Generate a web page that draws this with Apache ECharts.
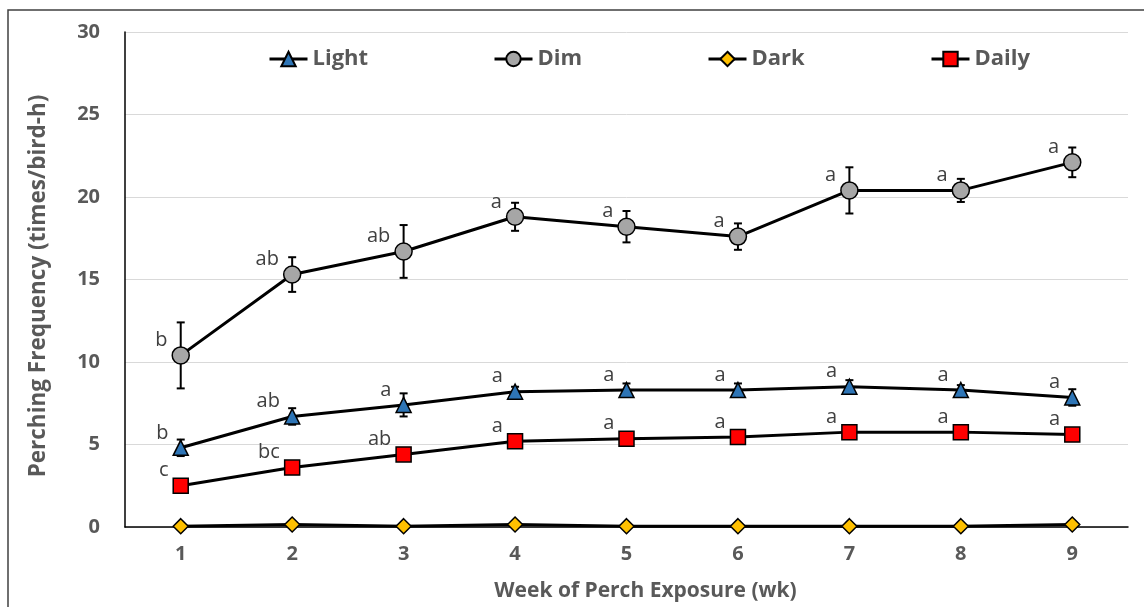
<!DOCTYPE html>
<html>
<head>
<meta charset="utf-8">
<script src="https://cdn.jsdelivr.net/npm/echarts@6/dist/echarts.min.js"></script>
<style>
html,body{margin:0;padding:0;background:#fff;}
#chart{width:1144px;height:607px;}
</style>
</head>
<body>
<div id="chart"></div>
<script>
const weeks = ['1','2','3','4','5','6','7','8','9'];
const yTicks = [0,5,10,15,20,25,30];

const light   = [4.8, 6.7, 7.4, 8.2, 8.3, 8.3, 8.5, 8.3, 7.85];
const lightSE = [0.5, 0.5, 0.7, 0.3, 0.4, 0.4, 0.4, 0.3, 0.5];
const dim     = [10.4, 15.3, 16.7, 18.8, 18.2, 17.6, 20.4, 20.4, 22.1];
const dimSE   = [2.0, 1.05, 1.6, 0.85, 0.95, 0.8, 1.4, 0.7, 0.9];
const dark    = [0.05, 0.15, 0.05, 0.15, 0.05, 0.05, 0.05, 0.05, 0.15];
const darkSE  = [0.05, 0.1, 0.05, 0.1, 0.05, 0.05, 0.05, 0.05, 0.1];
const daily   = [2.5, 3.6, 4.4, 5.2, 5.35, 5.45, 5.75, 5.75, 5.6];
const dailySE = [0.2, 0.2, 0.25, 0.2, 0.2, 0.2, 0.2, 0.2, 0.2];

const lightLetters = ['b','ab','a','a','a','a','a','a','a'];
const dimLetters   = ['b','ab','ab','a','a','a','a','a','a'];
const dailyLetters = ['c','bc','ab','a','a','a','a','a','a'];

const FONT = 'Open Sans';
const GRAY = '#595959';

function errData(vals, se){ return vals.map((v,i)=>[i, v-se[i], v+se[i]]); }
function errSeries(vals, se){
  return {
    type:'custom', silent:true, z:1,
    data: errData(vals, se),
    renderItem: function(params, api){
      const x = api.value(0);
      const lo = api.coord([x, api.value(1)]);
      const hi = api.coord([x, api.value(2)]);
      const w = 4;
      const st = {stroke:'#000', lineWidth:2};
      return {type:'group', children:[
        {type:'line', shape:{x1:hi[0],y1:hi[1],x2:lo[0],y2:lo[1]}, style:st},
        {type:'line', shape:{x1:hi[0]-w,y1:hi[1],x2:hi[0]+w,y2:hi[1]}, style:st},
        {type:'line', shape:{x1:lo[0]-w,y1:lo[1],x2:lo[0]+w,y2:lo[1]}, style:st}
      ]};
    }
  };
}
function lineSeries(name, vals, symbol, size, color, letters){
  const s = {
    name:name, type:'line', data:vals, symbol:symbol, symbolSize:size, z:3,
    lineStyle:{color:'#000', width:3},
    itemStyle:{color:color, borderColor:'#000', borderWidth:1.5},
    emphasis:{disabled:true}
  };
  if (letters) {
    s.label = {show:true, position:'left', distance:4, offset:[0,-15],
      formatter: p => letters[p.dataIndex],
      fontFamily:FONT, fontSize:20, color:'#404040'};
  }
  return s;
}
function legendAt(name, left){
  return {data:[name], left:left, top:48, padding:0, itemWidth:38, itemHeight:18, itemGap:0,
    lineStyle:{width:3, color:'#000'},
    textStyle:{fontFamily:FONT, fontSize:22, fontWeight:'bold', color:GRAY}, selectedMode:false};
}

const chart = echarts.init(document.getElementById('chart'));
chart.setOption({
  animation:false,
  backgroundColor:'#fff',
  graphic:[{type:'rect', shape:{x:8,y:10,width:1300,height:800}, style:{fill:'none', stroke:'#404040', lineWidth:1.5}, z:100}],
  legend:[legendAt('Light',268), legendAt('Dim',493), legendAt('Dark',707), legendAt('Daily',930)],
  grid:{left:125, right:16, top:32, bottom:80},
  xAxis:{
    type:'category', data:weeks, boundaryGap:true,
    name:'Week of Perch Exposure (wk)', nameLocation:'middle', nameGap:54,
    nameTextStyle:{fontFamily:FONT, fontSize:21, fontWeight:'bold', color:GRAY, padding:[0,0,0,38]},
    axisLine:{lineStyle:{color:'#000', width:1.5}},
    axisTick:{show:false},
    axisLabel:{fontFamily:FONT, fontSize:20, fontWeight:'bold', color:GRAY, margin:17}
  },
  yAxis:{
    type:'value', min:yTicks[0], max:yTicks[yTicks.length-1], interval:5,
    name:'Perching Frequency (times/bird-h)', nameLocation:'middle', nameGap:75,
    nameTextStyle:{fontFamily:FONT, fontSize:22.5, fontWeight:'bold', color:GRAY, padding:[0,13,0,0]},
    axisLine:{show:true, lineStyle:{color:'#000', width:1.5}},
    axisTick:{show:false},
    axisLabel:{fontFamily:FONT, fontSize:20, fontWeight:'bold', color:GRAY, margin:25},
    splitLine:{lineStyle:{color:'#d9d9d9', width:1}}
  },
  series:[
    errSeries(light, lightSE),
    errSeries(dim, dimSE),
    errSeries(dark, darkSE),
    errSeries(daily, dailySE),
    lineSeries('Light', light, 'triangle', 15, '#2e75b6', lightLetters),
    lineSeries('Dim', dim, 'circle', 17, '#a6a6a6', dimLetters),
    lineSeries('Dark', dark, 'diamond', 15, '#ffc000', null),
    lineSeries('Daily', daily, 'rect', 15, '#ff0000', dailyLetters)
  ]
});
</script>
</body>
</html>
